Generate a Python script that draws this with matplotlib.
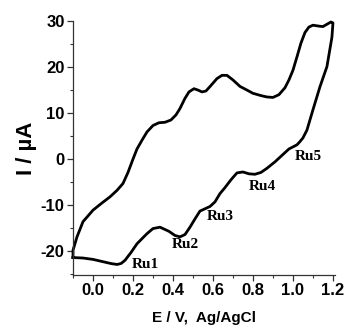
import matplotlib
matplotlib.use("Agg")
import matplotlib.pyplot as plt
from matplotlib.ticker import MultipleLocator

# anodic (upper) branch, left to right
E_up = [-0.1, -0.1, -0.08, -0.05, 0.0, 0.04, 0.085, 0.12, 0.15, 0.175, 0.2,
        0.22, 0.245, 0.27, 0.3, 0.33, 0.36, 0.39, 0.415, 0.435, 0.46, 0.48,
        0.505, 0.525, 0.545, 0.565, 0.59, 0.62, 0.645, 0.67, 0.7, 0.735,
        0.77, 0.8, 0.84, 0.87, 0.9, 0.93, 0.96, 0.98, 1.0, 1.02, 1.04, 1.06,
        1.08, 1.1, 1.13, 1.15, 1.17, 1.19, 1.2]
I_up = [-21.4, -19.8, -16.9, -13.6, -11.1, -9.7, -8.2, -6.8, -5.3, -2.9, 0.0,
        2.2, 4.1, 5.9, 7.3, 7.9, 8.0, 8.5, 9.6, 11.0, 13.2, 14.6,
        15.3, 15.0, 14.6, 14.8, 16.0, 17.5, 18.2, 18.2, 17.2, 15.8,
        15.0, 14.3, 13.8, 13.5, 13.4, 14.0, 15.5, 17.2, 19.3, 22.2, 25.2, 27.5,
        28.7, 29.1, 28.9, 28.8, 29.3, 29.8, 29.6]

# cathodic (lower) branch, right to left
E_down = [1.2, 1.195, 1.19, 1.17, 1.135, 1.1, 1.07, 1.05, 1.035, 1.02, 0.98,
          0.95, 0.91, 0.87, 0.84, 0.81, 0.78, 0.75, 0.72, 0.69, 0.66, 0.635,
          0.61, 0.585, 0.56, 0.535, 0.51, 0.485, 0.46, 0.435, 0.41, 0.38,
          0.335, 0.3, 0.27, 0.245, 0.22, 0.19, 0.16, 0.14, 0.12, 0.09, 0.05,
          0.0, -0.05, -0.1]
I_down = [29.5, 26.5, 25.2, 20.1, 15.7, 10.7, 6.3, 4.6, 3.8, 3.1, 2.2,
          1.0, -0.6, -2.0, -2.9, -3.3, -3.2, -2.8, -3.0, -4.5, -6.2, -7.5,
          -9.3, -10.3, -10.8, -11.3, -13.0, -14.8, -16.4, -16.9, -16.6, -15.7,
          -14.8, -15.1, -16.2, -17.3, -18.4, -20.3, -22.0, -22.7, -22.9, -22.7, -22.3,
          -21.8, -21.5, -21.4]

peak_labels = ["Ru1", "Ru2", "Ru3", "Ru4", "Ru5"]
peak_E = [0.26, 0.4625, 0.6375, 0.845, 1.075]
peak_I = [-22.8, -18.6, -12.5, -5.9, 0.65]

x_ticks = [0.0, 0.2, 0.4, 0.6, 0.8, 1.0, 1.2]
y_ticks = [-20, -10, 0, 10, 20, 30]

fig = plt.figure(figsize=(3.46, 3.29), dpi=100)
ax = fig.add_axes([0.211, 0.164, 0.757, 0.772])

ax.plot(E_up + E_down, I_up + I_down, color="black", lw=2.0, clip_on=False,
        solid_joinstyle="round")

for lab, e, i in zip(peak_labels, peak_E, peak_I):
    ax.text(e, i, lab, ha="center", va="center", fontsize=11,
            fontweight="bold", family="Liberation Serif")

ax.set_xlim(-0.1, 1.21)
ax.set_ylim(-25.2, 30)
ax.xaxis.set_minor_locator(MultipleLocator(0.1))
ax.yaxis.set_minor_locator(MultipleLocator(5))

for s in ["top", "right"]:
    ax.spines[s].set_visible(False)
for s in ["left", "bottom"]:
    ax.spines[s].set_linewidth(0.9)
    ax.spines[s].set_color("#333333")

ax.tick_params(which="major", direction="out", length=4, width=0.9,
               color="#333333", pad=2)
ax.tick_params(which="minor", direction="out", length=2.5, width=0.8,
               color="#333333")
ax.set_xticks(x_ticks)
ax.set_xticklabels([f"{v:.1f}" for v in x_ticks],
                   fontsize=12, fontweight="bold", family="Liberation Sans")
ax.set_yticks(y_ticks)
ax.set_yticklabels([str(v) for v in y_ticks],
                   fontsize=12, fontweight="bold", family="Liberation Sans")

ax.set_xlabel("E / V,  Ag/AgCl", fontsize=11, fontweight="bold",
              family="Liberation Sans", labelpad=9)
ax.set_ylabel("I / µA", fontsize=16, fontweight="bold",
              family="Liberation Sans", labelpad=3)

fig.savefig("out.png", dpi=100)
